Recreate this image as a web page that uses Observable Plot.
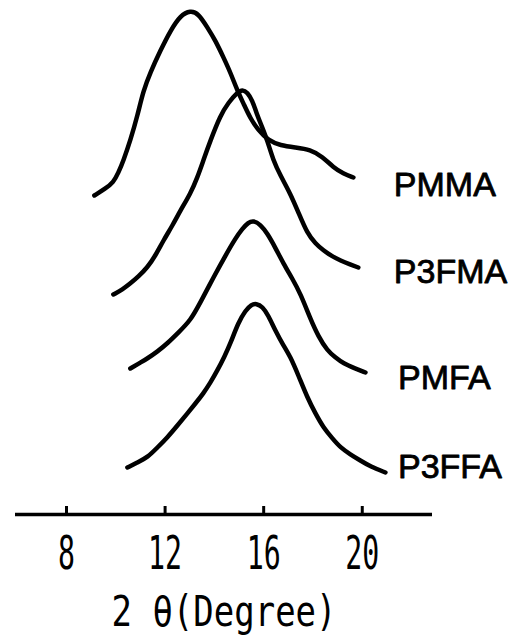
<!DOCTYPE html>
<html>
<head>
<meta charset="utf-8">
<script src="https://cdn.jsdelivr.net/npm/d3@7"></script>
<script src="https://cdn.jsdelivr.net/npm/@observablehq/plot@0.6"></script>
<style>
  html, body { margin: 0; padding: 0; background: #fff; }
</style>
</head>
<body>
<div id="chart"></div>
<script>
// Series names (top to bottom)
const seriesNames = ["PMMA", "P3FMA", "PMFA", "P3FFA"];

// 2θ (degree) and stacked intensity (a.u.) for each trace
const pmmaTheta = [9.13, 9.58, 9.90, 10.11, 10.31, 10.59, 10.88, 11.12, 11.40, 11.81, 12.22, 12.62, 13.03, 13.35, 13.72, 14.04, 14.37, 14.65, 14.93, 15.18, 15.46, 15.79, 16.19, 16.68, 17.29, 17.89, 18.38, 18.83, 19.23, 19.64];
const pmmaInt   = [63.8, 65.2, 66.4, 68.4, 70.8, 74.8, 79.8, 84.8, 88.4, 92.8, 96.8, 99.8, 100.8, 100.2, 97.4, 94.8, 91.4, 88.4, 84.8, 82.2, 79.2, 76.8, 74.8, 73.8, 73.4, 73.0, 71.6, 69.4, 68.2, 67.4];

const p3fmaTheta = [9.90, 10.27, 10.59, 10.92, 11.28, 11.61, 11.93, 12.30, 12.62, 13.03, 13.31, 13.55, 13.84, 14.24, 14.57, 14.93, 15.14, 15.34, 15.54, 15.70, 15.91, 16.15, 16.39, 16.68, 17.08, 17.41, 17.77, 18.10, 18.42, 18.79, 19.11, 19.52, 19.84];
const p3fmaInt   = [44.0, 45.0, 46.2, 47.6, 49.4, 51.8, 54.8, 57.8, 60.8, 64.2, 67.4, 70.8, 74.8, 79.8, 82.4, 84.4, 85.0, 84.4, 82.8, 80.4, 77.8, 74.8, 70.8, 67.8, 64.2, 60.4, 56.2, 54.2, 52.8, 51.6, 50.8, 50.0, 49.4];

const pmfaTheta = [10.59, 11.00, 11.28, 11.69, 12.09, 12.54, 13.03, 13.43, 13.96, 14.45, 14.85, 15.14, 15.38, 15.58, 15.87, 16.15, 16.47, 16.80, 17.16, 17.49, 17.89, 18.22, 18.58, 18.91, 19.23, 19.72, 20.13];
const pmfaInt   = [29.2, 30.4, 31.2, 32.6, 34.2, 36.4, 38.8, 42.4, 47.4, 51.8, 55.2, 57.2, 58.4, 58.8, 58.0, 56.2, 53.4, 50.2, 47.2, 44.2, 39.2, 35.6, 32.8, 31.4, 30.2, 29.2, 28.4];

const p3ffaTheta = [10.47, 10.88, 11.28, 11.69, 12.09, 12.50, 12.90, 13.23, 13.55, 13.84, 14.12, 14.41, 14.65, 14.97, 15.26, 15.50, 15.70, 15.95, 16.19, 16.47, 16.80, 17.08, 17.41, 17.77, 18.10, 18.42, 18.79, 19.11, 19.52, 19.92, 20.33, 20.94];
const p3ffaInt   = [9.4, 10.4, 11.4, 13.4, 15.4, 17.8, 20.2, 22.2, 24.2, 26.4, 28.8, 31.6, 34.2, 38.4, 40.8, 42.0, 42.2, 41.6, 39.8, 36.8, 33.8, 31.6, 27.8, 23.4, 20.2, 17.4, 15.2, 13.4, 12.0, 10.8, 9.6, 8.4];

// Label anchors (2θ, intensity) for the series names
const labelTheta = [21.28, 21.28, 21.45, 21.45];
const labelInt   = [65.8, 48.4, 27.2, 9.4];

// Axis
const xTicks = [8, 12, 16, 20];
const xDomain = [5.93, 22.85];
const yDomain = [0, 102.8];
const axisTitle = "2 θ(Degree)";

// Build tables
const thetas = [pmmaTheta, p3fmaTheta, pmfaTheta, p3ffaTheta];
const ints = [pmmaInt, p3fmaInt, pmfaInt, p3ffaInt];
const rows = [];
seriesNames.forEach((s, i) => {
  thetas[i].forEach((t, j) => rows.push({series: s, theta: t, intensity: ints[i][j]}));
});
const labelRows = seriesNames.map((s, i) => ({series: s, theta: labelTheta[i], intensity: labelInt[i]}));

const chart = Plot.plot({
  width: 519,
  height: 640,
  marginTop: 0,
  marginBottom: 126,
  marginLeft: 15,
  marginRight: 87,
  x: {domain: xDomain},
  y: {domain: yDomain, axis: null},
  style: {background: "#fff", color: "#000", overflow: "visible"},
  marks: [
    Plot.ruleY([0], {stroke: "#000", strokeWidth: 3.5}),
    Plot.axisX({
      ticks: xTicks,
      tickSize: -8,
      tickPadding: 30,
      strokeWidth: 3,
      stroke: "#000",
      fill: "#000",
      fontSize: 46,
      fontFamily: "DejaVu Sans Mono",
      label: null
    }),
    Plot.line(rows, {
      x: "theta", y: "intensity", z: "series",
      curve: "basis",
      stroke: "#000", strokeWidth: 4.5,
      strokeLinecap: "round", strokeLinejoin: "round"
    }),
    Plot.text(labelRows, {
      x: "theta", y: "intensity", text: "series",
      textAnchor: "start", lineAnchor: "middle",
      fontSize: 34, fontFamily: "Liberation Sans, Arial, sans-serif",
      fill: "#000", stroke: "#000", strokeWidth: 0.8
    }),
    Plot.text([axisTitle], {
      frameAnchor: "bottom", dy: 98, lineAnchor: "middle",
      fontSize: 42, fontFamily: "DejaVu Sans Mono",
      fill: "#000", className: "axis-title"
    })
  ]
});

document.getElementById("chart").appendChild(chart);

// Condense the typewriter-like axis text
d3.select(chart).selectAll('g[aria-label="x-axis tick label"] text')
  .each(function() {
    const n = this.textContent.length;
    d3.select(this).attr("textLength", 17 * n).attr("lengthAdjust", "spacingAndGlyphs");
  });
d3.select(chart).selectAll('.axis-title text')
  .attr("textLength", 225).attr("lengthAdjust", "spacingAndGlyphs");
</script>
</body>
</html>
